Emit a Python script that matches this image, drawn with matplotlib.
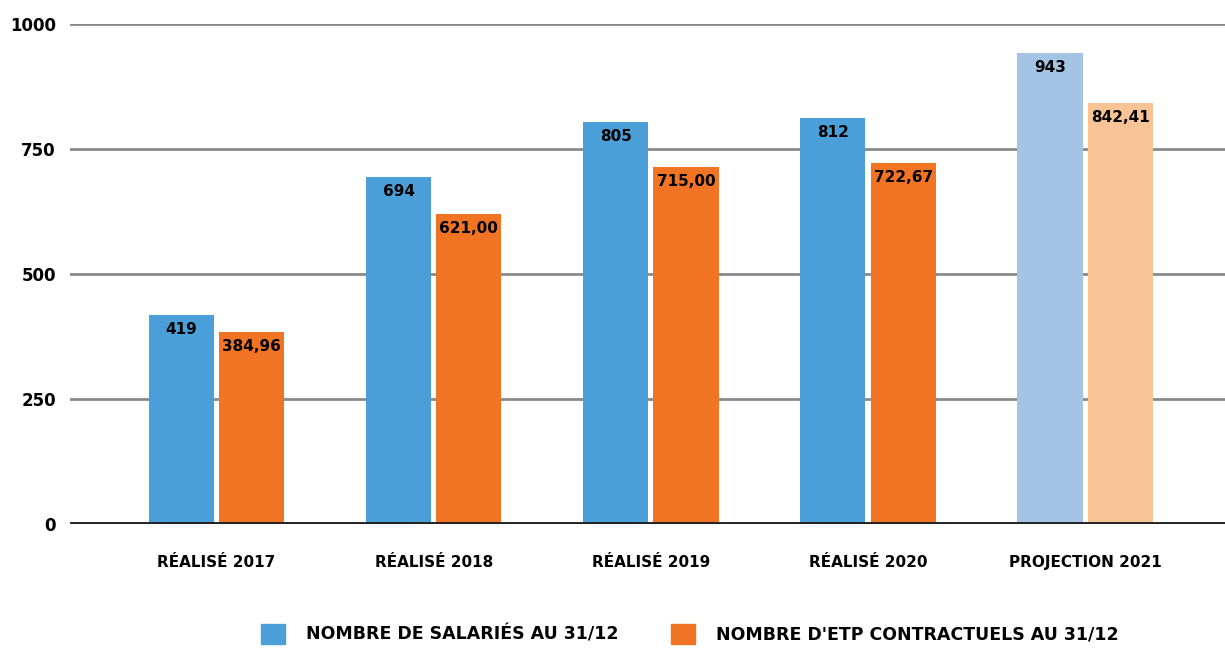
import numpy as np
import matplotlib
matplotlib.use('Agg')
import matplotlib.pyplot as plt
from matplotlib.patches import Patch

# data
categories = ['RÉALISÉ 2017', 'RÉALISÉ 2018', 'RÉALISÉ 2019', 'RÉALISÉ 2020', 'PROJECTION 2021']
salaries = [419, 694, 805, 812, 943]
etp = [384.96, 621.00, 715.00, 722.67, 842.41]
yticks = [0, 250, 500, 750, 1000]
legend_labels = ['NOMBRE DE SALARIÉS AU 31/12', "NOMBRE D'ETP CONTRACTUELS AU 31/12"]

blue = '#4a9fd8'
orange = '#f07424'
blue_light = '#a4c4e6'
orange_light = '#f8c495'

plt.rcParams['font.family'] = ['DejaVu Sans']
plt.rcParams['font.weight'] = 'bold'

fig = plt.figure(figsize=(12.25, 6.52), dpi=100)
ax = fig.add_axes([0.057, 0.196, 0.943, 0.767])

x = np.arange(len(categories))
w = 0.3
gap = 0.012
blue_cols = [blue] * 4 + [blue_light]
orange_cols = [orange] * 4 + [orange_light]

b1 = ax.bar(x - w / 2 - gap, salaries, w, color=blue_cols, zorder=3)
b2 = ax.bar(x + w / 2 + gap, etp, w, color=orange_cols, zorder=3)

for r, v in zip(b1, salaries):
    ax.text(r.get_x() + r.get_width() / 2, v - 14, str(v), ha='center', va='top',
            fontsize=11, fontweight='bold', color='black', zorder=4)
for r, v in zip(b2, etp):
    ax.text(r.get_x() + r.get_width() / 2, v - 14, ('%.2f' % v).replace('.', ','),
            ha='center', va='top', fontsize=11, fontweight='bold', color='black', zorder=4)

ax.set_ylim(0, 1000)
ax.set_xlim(-0.676, 4.644)
ax.set_yticks(yticks)
ax.set_yticklabels([str(t) for t in yticks], fontsize=12, fontweight='bold')
ax.set_xticks(x)
ax.set_xticklabels(categories, fontsize=11, fontweight='bold')
ax.tick_params(axis='both', length=0)
ax.tick_params(axis='x', pad=22)
ax.tick_params(axis='y', pad=10)

for t in yticks[1:]:
    ax.axhline(t, color='#8a8a8a', lw=2, zorder=1)
ax.axhline(0, color='#222222', lw=2.8, zorder=4)

for s in ax.spines.values():
    s.set_visible(False)

handles = [Patch(color=blue), Patch(color=orange)]
fig.legend(handles, legend_labels, loc='center', bbox_to_anchor=(0.563, 0.028), ncol=2,
           frameon=False, handlelength=1.4, handleheight=1.4,
           columnspacing=3.0, handletextpad=1.2, prop={'weight': 'bold', 'size': 12.5})

fig.savefig('out.png', dpi=100)
